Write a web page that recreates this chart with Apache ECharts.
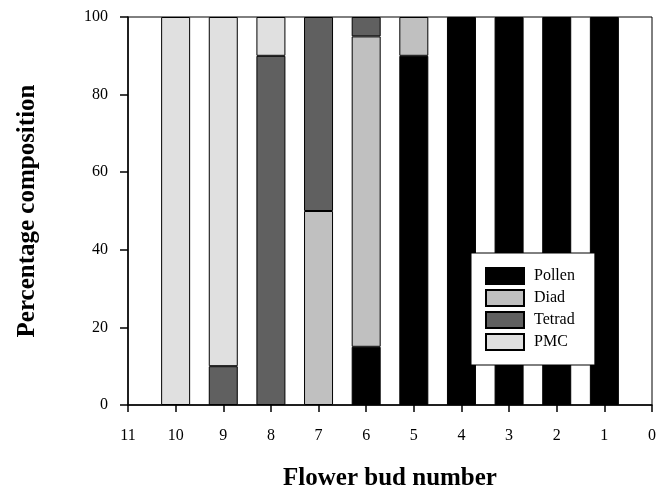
<!DOCTYPE html>
<html>
<head>
<meta charset="utf-8">
<script src="https://cdn.jsdelivr.net/npm/echarts@6/dist/echarts.min.js"></script>
<style>html,body{margin:0;padding:0;background:#fff}#c{width:656px;height:488px}</style>
</head>
<body>
<div id="c"></div>
<script>
var tickLabels = ['11', '10', '9', '8', '7', '6', '5', '4', '3', '2', '1', '0'];
var pollen = [null, null, null, null, null, 15, 90, 100, 100, 100, 100, null];
var diad   = [null, null, null, null, 50, 80, 10, null, null, null, null, null];
var tetrad = [null, null, 10, 90, 50, 5, null, null, null, null, null, null];
var pmc    = [null, 100, 90, 10, null, null, null, null, null, null, null, null];
var seriesNames = ['Pollen', 'Diad', 'Tetrad', 'PMC'];
var seriesColors = ['#000000', '#c0c0c0', '#606060', '#e0e0e0'];
var seriesValues = [pollen, diad, tetrad, pmc];

var font = 'Liberation Serif';
var chart = echarts.init(document.getElementById('c'), null, {renderer: 'canvas'});

var series = seriesNames.map(function (name, i) {
  return {
    name: name,
    type: 'bar',
    stack: 'total',
    barWidth: 29,
    itemStyle: {color: seriesColors[i], borderColor: '#000', borderWidth: 1},
    emphasis: {disabled: true},
    data: seriesValues[i]
  };
});

chart.setOption({
  animation: false,
  backgroundColor: '#fff',
  grid: {left: 128, right: 4, top: 17, bottom: 83, outerBoundsMode: 'none', containLabel: false, show: true, borderColor: '#000', borderWidth: 1, backgroundColor: 'transparent'},
  legend: {
    data: seriesNames,
    orient: 'vertical',
    left: 471, top: 253,
    itemWidth: 38, itemHeight: 16, itemGap: 4,
    icon: 'rect',
    padding: [14, 20, 14, 14],
    backgroundColor: '#fff',
    borderColor: '#000', borderWidth: 1,
    textStyle: {fontFamily: font, fontSize: 16, color: '#000', padding: [0, 0, 0, 5]}
  },
  xAxis: {
    type: 'category', data: tickLabels, boundaryGap: false,
    name: 'Flower bud number', nameLocation: 'middle', nameGap: 61,
    nameTextStyle: {fontFamily: font, fontSize: 25, fontWeight: 'bold', color: '#000'},
    axisLine: {show: true, onZero: false, lineStyle: {color: '#000', width: 1.5}},
    axisTick: {show: true, length: 7, interval: 0, lineStyle: {color: '#000', width: 1.5}},
    axisLabel: {fontFamily: font, fontSize: 16, color: '#000', margin: 23, interval: 0},
    splitLine: {show: false}
  },
  yAxis: {
    type: 'value', min: 0, max: 100, interval: 20,
    name: 'Percentage composition', nameLocation: 'middle', nameGap: 88,
    nameTextStyle: {fontFamily: font, fontSize: 25, fontWeight: 'bold', color: '#000'},
    axisLine: {show: true, onZero: false, lineStyle: {color: '#000', width: 1.5}},
    axisTick: {show: true, length: 8, lineStyle: {color: '#000', width: 1.5}},
    axisLabel: {fontFamily: font, fontSize: 16, color: '#000', margin: 20},
    splitLine: {show: false}
  },
  series: series
});
</script>
</body>
</html>
